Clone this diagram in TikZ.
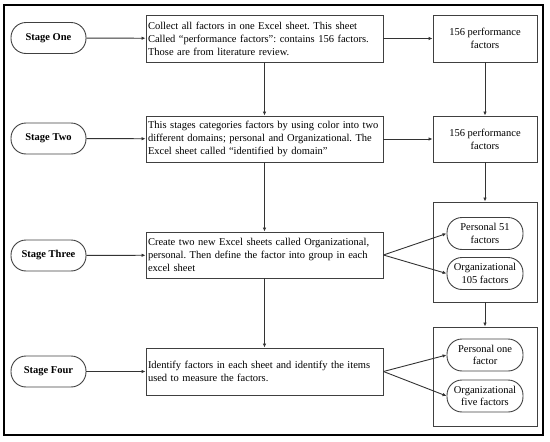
\documentclass[tikz,border=0pt]{standalone}
\usepackage{fontspec}
\setmainfont{Liberation Serif}
\usetikzlibrary{arrows.meta}
\frenchspacing
\begin{document}
\begin{tikzpicture}[x=1pt,y=-1pt,
  every node/.style={font=\fontsize{10.5}{13}\selectfont, text=black},
  stage/.style={draw=black!75, line width=0.9pt, rounded corners=15pt, minimum width=75pt, minimum height=31pt, inner sep=0pt, font=\fontsize{10.5}{13}\selectfont\bfseries},
  mainbox/.style={draw=black!75, line width=0.9pt, minimum width=237pt, text width=233pt, align=left, inner sep=2pt},
  rbox/.style={draw=black!75, line width=0.9pt, minimum width=104pt, align=center, inner sep=2pt},
  pill/.style={draw=black!75, line width=0.9pt, rounded corners=15pt, minimum width=76pt, minimum height=32pt, align=center, inner sep=0pt, font=\fontsize{10.5}{12.5}\selectfont},
  arr/.style={draw=black!80, line width=0.9pt, -{Latex[length=4pt,width=3.5pt]}}
]
\useasboundingbox (0,0) rectangle (550,442);
\draw[line width=2.5pt, black] (4,5) rectangle (543,435);

% stage pills
\node[stage] (s1) at (48.5,38) {Stage One};
\node[stage] (s2) at (48.5,138.5) {Stage Two};
\node[stage] (s3) at (48.5,255.5) {Stage Three};
\node[stage] (s4) at (48.5,371.5) {Stage Four};

% main boxes
\node[mainbox, minimum height=47pt] (m1) at (264.5,38.5) {Collect all factors in one Excel sheet. This sheet\\Called “performance factors”: contains 156 factors.\\Those are from literature review.};
\node[mainbox, minimum height=46pt] (m2) at (264.5,139) {This stages categories factors by using color into two\\different domains; personal and Organizational. The\\Excel sheet called “identified by domain”};
\node[mainbox, minimum height=46pt] (m3) at (264.5,255) {Create two new Excel sheets called Organizational,\\personal. Then define the factor into group in each\\excel sheet};
\node[mainbox, minimum height=47pt] (m4) at (264.5,371.5) {Identify factors in each sheet and identify the items\\used to measure the factors.};

% right boxes
\node[rbox, minimum height=47pt] (r1) at (485,38.5) {156 performance\\factors};
\node[rbox, minimum height=46pt] (r2) at (485,139) {156 performance\\factors};
\node[rbox, minimum height=100pt] (r3) at (485,252) {};
\node[rbox, minimum height=99pt] (r4) at (485,376.5) {};

\node[pill] (p1) at (485,233.5) {Personal 51\\factors};
\node[pill] (o1) at (485,273.5) {Organizational\\105 factors};
\node[pill] (p2) at (485,355) {Personal one\\factor};
\node[pill] (o2) at (485,396) {Organizational\\five factors};

% arrows
\draw[arr] (s1) -- (m1);
\draw[arr] (s2) -- (m2);
\draw[arr] (s3) -- (m3);
\draw[arr] (s4) -- (m4);
\draw[arr] (m1) -- (r1);
\draw[arr] (m2) -- (r2);
\draw[arr] (m1) -- (m2);
\draw[arr] (m2) -- (m3);
\draw[arr] (m3) -- (m4);
\draw[arr] (r1) -- (r2);
\draw[arr] (r2) -- (r3);
\draw[arr] (r3) -- (r4);
\draw[arr] (m3.east) -- (p1.west);
\draw[arr] (m3.east) -- (o1.west);
\draw[arr] (m4.east) -- (p2.west);
\draw[arr] (m4.east) -- (o2.west);
\end{tikzpicture}
\end{document}
